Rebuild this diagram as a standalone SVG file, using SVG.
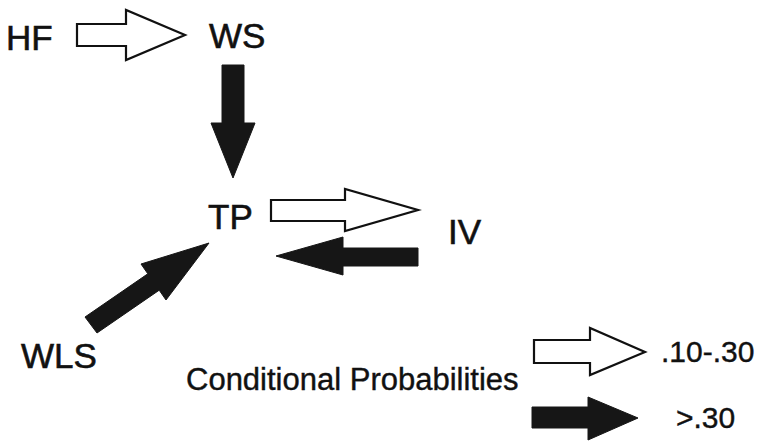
<svg xmlns="http://www.w3.org/2000/svg" width="761" height="441" viewBox="0 0 761 441">
<style>
.lbl{font-family:"Liberation Sans",Arial,Helvetica,sans-serif;font-size:35px;fill:#111;stroke:#111;stroke-width:0.6}
.leg{font-family:"Liberation Sans",Arial,Helvetica,sans-serif;font-size:30px;fill:#111;stroke:#111;stroke-width:0.4}
.open{fill:#fff;stroke:#111;stroke-width:2.2;stroke-linejoin:miter}
.solid{fill:#161616;stroke:#161616;stroke-width:1}
</style>
<rect width="761" height="441" fill="#fff"/>
<g id="HF"><text class="lbl" x="6" y="50">HF</text></g>
<g id="WS"><text class="lbl" x="209" y="48">WS</text></g>
<g id="TP"><text class="lbl" x="208" y="229">TP</text></g>
<g id="IV"><text class="lbl" x="448" y="244">IV</text></g>
<g id="WLS"><text class="lbl" x="21" y="368">WLS</text></g>
<g id="connectors">
<polygon class="open" points="77,24 126,24 126,10 185,35 126,60 126,46 77,46"/>
<polygon class="solid" points="222,65 244,65 244,123 255,123 233,178 211,123 222,123"/>
<polygon class="open" points="271,200 345,200 345,189 418,210 345,231 345,221 271,221"/>
<polygon class="solid" points="418,248 418,266 343,266 343,275 276,256 343,237 343,248"/>
<polygon class="solid" points="85,317 147.8,273.8 141,264 209,243 166,300 159.2,290.2 97,333"/>
</g>
<g id="legend">
<text class="leg" x="186" y="390" style="font-size:31px">Conditional Probabilities</text>
<polygon class="open" points="534,340 590,340 590,328 645,352 590,375 590,363 534,363"/>
<text class="leg" x="661" y="362">.10-.30</text>
<polygon class="solid" points="532,407 588,407 588,397 638,418 588,440 588,428 532,428"/>
<text class="leg" x="676" y="428">&gt;.30</text>
</g>
</svg>
